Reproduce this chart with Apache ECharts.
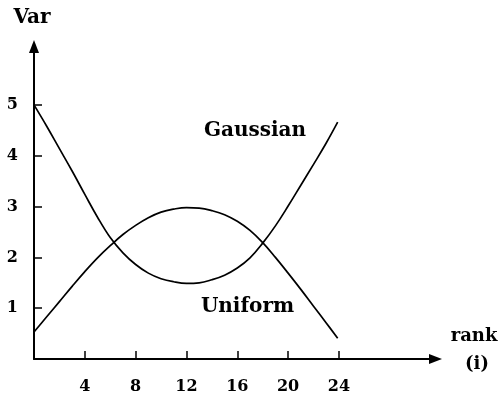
<!DOCTYPE html>
<html>
<head>
<meta charset="utf-8">
<script src="https://cdn.jsdelivr.net/npm/echarts@6/dist/echarts.min.js"></script>
<style>
  html, body { margin: 0; padding: 0; background: #fff; }
  #chart { width: 500px; height: 399px; }
</style>
</head>
<body>
<div id="chart"></div>
<script>
// Variance of the i-th order statistic against its rank, for two parent distributions.
const rankValues  = [0, 1, 2, 3, 4, 5, 6, 7, 8, 9, 10, 11, 12, 13, 14, 15, 16, 17, 18, 19, 20, 21, 22, 23, 23.9];
const gaussianVar = [5.0, 4.58, 4.14, 3.7, 3.24, 2.79, 2.39, 2.09, 1.86, 1.69, 1.58, 1.52, 1.49, 1.5, 1.56, 1.65, 1.79, 1.99, 2.28, 2.62, 3.01, 3.42, 3.83, 4.25, 4.66];
const uniformVar  = [0.53, 0.83, 1.13, 1.43, 1.72, 1.99, 2.23, 2.45, 2.63, 2.78, 2.89, 2.95, 2.98, 2.97, 2.92, 2.84, 2.71, 2.53, 2.29, 2.0, 1.69, 1.37, 1.04, 0.71, 0.41];
const xTicks = [4, 8, 12, 16, 20, 24];
const yTicks = [1, 2, 3, 4, 5];

const FONT = '"DejaVu Serif", "Liberation Serif", serif';
const INK = '#000';

const pairs = (ys) => rankValues.map((x, i) => [x, ys[i]]);

const axisCommon = {
  type: 'value',
  min: 0,
  splitLine: { show: false },
  axisLine: {
    show: true,
    onZero: false,
    symbol: ['none', 'triangle'],
    symbolSize: [10, 13],
    lineStyle: { color: INK, width: 2 }
  },
  axisTick: { show: true, inside: true, length: 8, lineStyle: { color: INK, width: 1.5 } },
  axisLabel: { color: INK, fontFamily: FONT, fontWeight: 'bold', fontSize: 16 }
};

const curveStyle = { color: INK, width: 1.7 };

const chart = echarts.init(document.getElementById('chart'), null, { renderer: 'canvas' });

chart.setOption({
  backgroundColor: '#fff',
  animation: false,
  grid: { left: 34, right: 64.5, top: 46.5, bottom: 40, containLabel: false },
  xAxis: Object.assign({}, axisCommon, {
    max: 31.6,
    axisTick: Object.assign({}, axisCommon.axisTick, { customValues: xTicks }),
    axisLabel: Object.assign({}, axisCommon.axisLabel, { customValues: xTicks, margin: 20 })
  }),
  yAxis: Object.assign({}, axisCommon, {
    max: 6.15,
    axisTick: Object.assign({}, axisCommon.axisTick, { customValues: yTicks }),
    axisLabel: Object.assign({}, axisCommon.axisLabel, { customValues: yTicks, margin: 16 })
  }),
  series: [
    {
      name: 'Gaussian',
      type: 'line',
      data: pairs(gaussianVar),
      smooth: 0.4,
      symbol: 'none',
      lineStyle: curveStyle
    },
    {
      name: 'Uniform',
      type: 'line',
      data: pairs(uniformVar),
      smooth: 0.4,
      symbol: 'none',
      lineStyle: curveStyle
    }
  ],
  graphic: [
    { type: 'text', x: 32, y: 18, style: { text: 'Var', font: 'bold 20px ' + FONT, fill: INK, textAlign: 'center', textVerticalAlign: 'middle' } },
    { type: 'text', x: 474, y: 336, style: { text: 'rank', font: 'bold 18px ' + FONT, fill: INK, textAlign: 'center', textVerticalAlign: 'middle' } },
    { type: 'text', x: 477, y: 364, style: { text: '(i)', font: 'bold 18px ' + FONT, fill: INK, textAlign: 'center', textVerticalAlign: 'middle' } },
    { type: 'text', x: 255, y: 131, style: { text: 'Gaussian', font: 'bold 20px ' + FONT, fill: INK, textAlign: 'center', textVerticalAlign: 'middle' } },
    { type: 'text', x: 247.5, y: 307, style: { text: 'Uniform', font: 'bold 20px ' + FONT, fill: INK, textAlign: 'center', textVerticalAlign: 'middle' } }
  ]
});
</script>
</body>
</html>
